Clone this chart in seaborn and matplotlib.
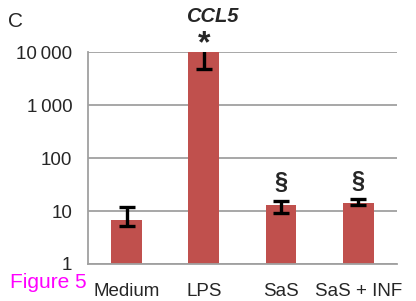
import matplotlib
matplotlib.use('Agg')
from matplotlib import pyplot as plt
from matplotlib.ticker import FixedLocator, NullLocator
import seaborn as sns
import pandas as pd
import numpy as np

# Values (log axis)
categories = ['Medium', 'LPS', 'SaS', 'SaS + INF']
means = [6.8, 10000, 13.0, 14.2]
err_low = [1.6, 5200, 3.8, 1.2]
err_high = [5.1, 6000, 2.6, 2.8]
marks = ['', '*', '\u00a7', '\u00a7']
tick_values = [1, 10, 100, 1000, 10000]
tick_labels = ['1', '10', '100', '1\u2009000', '10\u2009000']

BAR_COLOR = '#C0504D'
GRID_COLOR = '#A0A0A0'

sns.set_style('white')
plt.rcParams['font.family'] = ['Liberation Sans', 'DejaVu Sans']

df = pd.DataFrame({'condition': categories, 'level': means})

fig = plt.figure(figsize=(4.16, 3.01), dpi=100)
ax = fig.add_axes([0.2115, 0.123, 0.7425, 0.704])

sns.barplot(data=df, x='condition', y='level', color=BAR_COLOR,
            saturation=1, width=0.4, linewidth=0, ax=ax, zorder=2)
ax.set_yscale('log')
ax.set_ylim(1, 10000)
ax.set_xlim(-0.5, len(categories) - 0.5)

xpos = np.arange(len(categories))
ax.errorbar(xpos, means, yerr=[err_low, err_high], fmt='none',
            ecolor='black', elinewidth=2.4, capsize=5.5, capthick=2.4,
            zorder=3, clip_on=True)

# gridlines / axes styling
ax.yaxis.set_major_locator(FixedLocator(tick_values))
ax.yaxis.set_minor_locator(NullLocator())
ax.set_yticklabels(tick_labels, fontsize=13.5)
ax.grid(axis='y', color=GRID_COLOR, linewidth=1.3, zorder=0)
ax.set_axisbelow(True)
for side in ['top', 'right']:
    ax.spines[side].set_visible(False)
for side in ['left', 'bottom']:
    ax.spines[side].set_color(GRID_COLOR)
    ax.spines[side].set_linewidth(1.3)
ax.tick_params(axis='y', length=4.3, width=1.3, color=GRID_COLOR, pad=7)

# category ticks sit between bars
ax.set_xticks(xpos)
ax.set_xticklabels(categories, fontsize=13.5)
ax.tick_params(axis='x', length=0, pad=14)
ax.set_xticks(np.arange(len(categories) + 1) - 0.5, minor=True)
ax.tick_params(axis='x', which='minor', length=4.3, width=1.3,
               color=GRID_COLOR, direction='out')
ax.set_xlabel('')
ax.set_ylabel('')

# significance marks
for i, m in enumerate(marks):
    if not m:
        continue
    if m == '*':
        ax.text(i, 10000, m, ha='center', va='baseline', fontsize=23,
                fontweight='bold', clip_on=False)
    else:
        ax.text(i, means[i] + err_high[i] + 5, m, ha='center',
                va='bottom', fontsize=17, fontweight='bold')

fig.text(212 / 416, 0.944, 'CCL5', ha='center', va='center',
         fontsize=14.5, fontweight='bold', style='italic')
fig.text(0.02, 0.93, 'C', ha='left', va='center', fontsize=15)
fig.text(0.024, 0.043, 'Figure 5', ha='left', va='baseline', fontsize=15,
         color='#FF00FF')

fig.savefig('out.png', dpi=100)
